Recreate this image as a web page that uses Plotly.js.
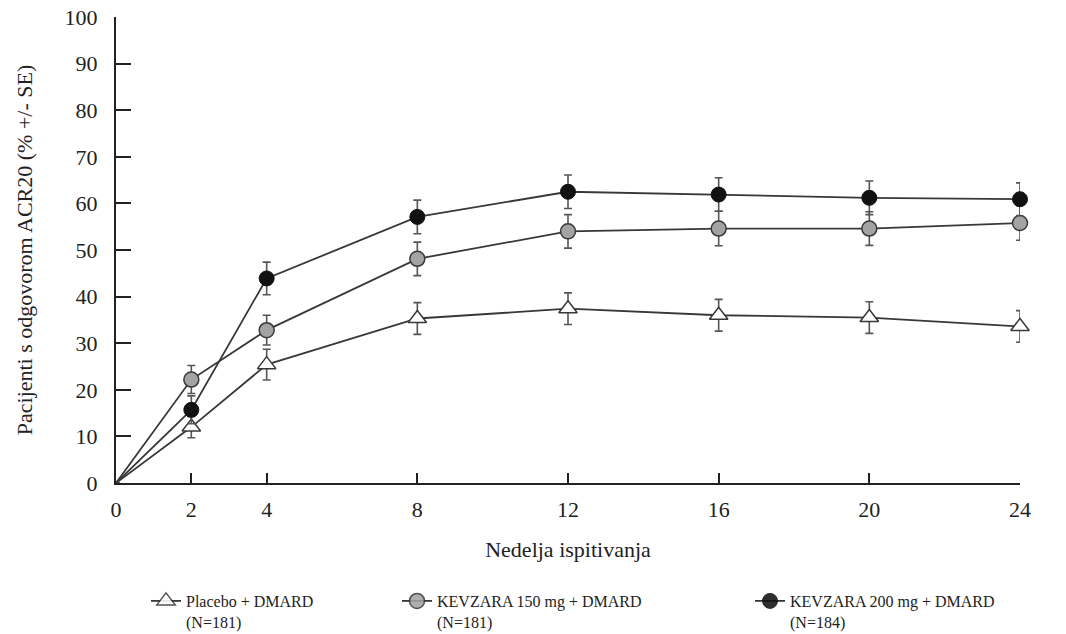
<!DOCTYPE html>
<html>
<head>
<meta charset="utf-8">
<script src="https://cdn.plot.ly/plotly-3.0.1.min.js"></script>
<style>html,body{margin:0;padding:0;background:#fff}#chart{width:1066px;height:634px}</style>
</head>
<body>
<div id="chart"></div>
<script>
const weeks = [0, 2, 4, 8, 12, 16, 20, 24];
const tickVals = [0, 2, 4, 8, 12, 16, 20, 24];
const tickText = ['0', '2', '4', '8', '12', '16', '20', '24'];

const placeboVals = [0, 12.0, 25.4, 35.3, 37.4, 36.0, 35.5, 33.6];
const placeboSE   = [null, 2.3, 3.3, 3.4, 3.4, 3.4, 3.4, 3.4];

const kev150Vals = [0, 22.2, 32.8, 48.1, 54.0, 54.6, 54.6, 55.8];
const kev150SE   = [null, 3.0, 3.2, 3.6, 3.6, 3.7, 3.6, 3.7];

const kev200Vals = [0, 15.7, 43.9, 57.1, 62.5, 61.9, 61.2, 60.9];
const kev200SE   = [null, 3.0, 3.5, 3.6, 3.6, 3.6, 3.6, 3.5];

const seriesNames = [
  'Placebo + DMARD<br>(N=181)',
  'KEVZARA 150 mg + DMARD<br>(N=181)',
  'KEVZARA 200 mg + DMARD<br>(N=184)'
];

const FONT = 'Liberation Serif';
const lineCol = '#383838';
const txtCol = '#222';

function errBar(arr) {
  return {type: 'data', array: arr, visible: true, color: '#555', thickness: 1.6, width: 4};
}

const traces = [
  {
    x: weeks, y: placeboVals, name: seriesNames[0], type: 'scatter', mode: 'lines+markers',
    line: {color: lineCol, width: 1.8},
    marker: {symbol: 'triangle-up', size: 16, color: '#fff', line: {color: lineCol, width: 1.5}},
    error_y: errBar(placeboSE), cliponaxis: false, legend: 'legend'
  },
  {
    x: weeks, y: kev150Vals, name: seriesNames[1], type: 'scatter', mode: 'lines+markers',
    line: {color: lineCol, width: 1.8},
    marker: {symbol: 'circle', size: 15, color: '#a3a3a3', line: {color: lineCol, width: 1.5}},
    error_y: errBar(kev150SE), cliponaxis: false, legend: 'legend2'
  },
  {
    x: weeks, y: kev200Vals, name: seriesNames[2], type: 'scatter', mode: 'lines+markers',
    line: {color: lineCol, width: 1.8},
    marker: {symbol: 'circle', size: 15, color: '#111', line: {color: '#111', width: 1}},
    error_y: errBar(kev200SE), cliponaxis: false, legend: 'legend3'
  }
];

traces.forEach(t => {
  t.marker.opacity = weeks.map(w => w === 0 ? 0 : 1);
});

function legendAt(xpx) {
  return {
    orientation: 'h', xref: 'container', yref: 'container',
    x: xpx / 1066, y: 1 - 584 / 634, xanchor: 'left', yanchor: 'top',
    font: {family: FONT, size: 16, color: txtCol},
    valign: 'top', itemclick: false, bgcolor: 'rgba(0,0,0,0)'
  };
}

const layout = {
  width: 1066, height: 634,
  paper_bgcolor: '#fff', plot_bgcolor: '#fff',
  font: {family: FONT, color: txtCol, size: 22},
  margin: {l: 116, r: 46, t: 17, b: 151},
  showlegend: true,
  legend: legendAt(146),
  legend2: legendAt(397),
  legend3: legendAt(750),
  xaxis: {
    range: [0, 24], tickvals: tickVals, ticktext: tickText,
    showgrid: false, zeroline: false,
    showline: true, linecolor: '#222', linewidth: 2,
    ticks: 'inside', ticklen: 10, tickwidth: 2, tickcolor: '#222',
    tickfont: {family: FONT, size: 22, color: txtCol},
    ticklabelstandoff: 6,
    title: {text: 'Nedelja ispitivanja', font: {family: FONT, size: 22, color: txtCol}, standoff: 20},
    automargin: false
  },
  yaxis: {
    range: [0, 100], dtick: 10,
    showgrid: false, zeroline: false,
    showline: true, linecolor: '#222', linewidth: 2,
    ticks: 'inside', ticklen: 15, tickwidth: 2, tickcolor: '#222',
    tickfont: {family: FONT, size: 22, color: txtCol},
    ticklabelstandoff: 12,
    title: {text: 'Pacijenti s odgovorom ACR20 (% +/- SE)', font: {family: FONT, size: 22, color: txtCol}, standoff: 26},
    automargin: false
  }
};

Plotly.newPlot('chart', traces, layout, {displayModeBar: false, staticPlot: true});
</script>
</body>
</html>
